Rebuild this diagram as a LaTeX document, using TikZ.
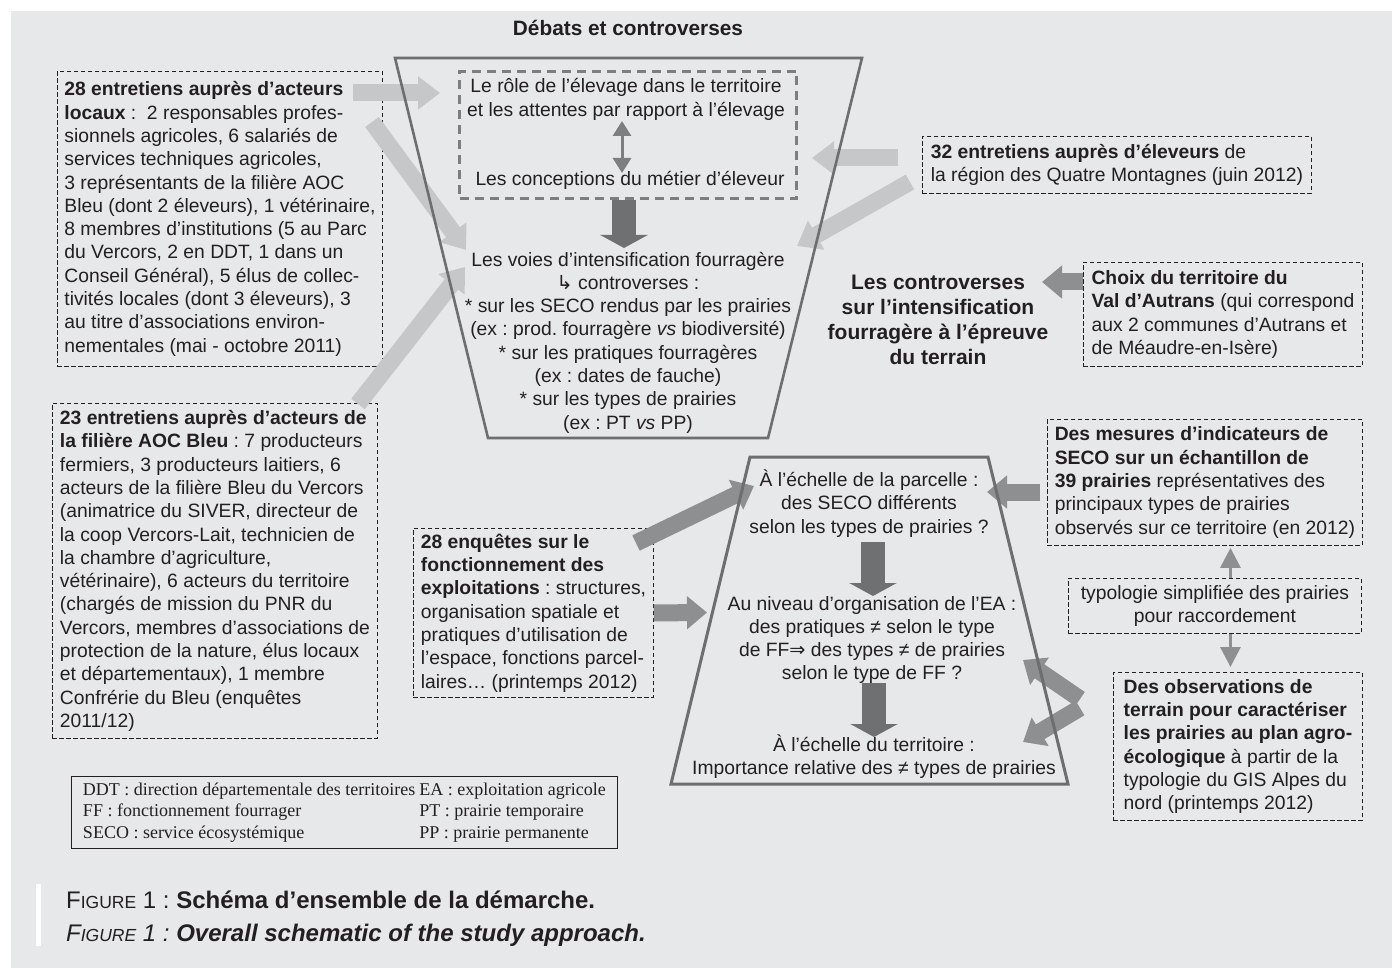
\documentclass[tikz,border=0pt]{standalone}
\usepackage{fontspec}
\setmainfont{Liberation Sans}
\newfontfamily\legfont{Liberation Serif}
\newfontfamily\dvfont{DejaVu Sans}
\usetikzlibrary{arrows.meta,calc}
\definecolor{bg}{HTML}{E7E8EA}
\definecolor{txt}{HTML}{231F20}
\definecolor{lightarr}{HTML}{C6C7C9}
\definecolor{medarr}{HTML}{8E8F91}
\definecolor{darkarr}{HTML}{6F7072}
\definecolor{trapcol}{HTML}{6D6E70}
\definecolor{dashgray}{HTML}{7D7E80}
\frenchspacing
\tikzset{
  mainf/.style={font=\fontsize{19.3}{23.3}\selectfont, text=txt},
  dbox/.style={draw=txt, line width=0.9pt, dash pattern=on 4.5pt off 2.5pt, inner sep=0pt, anchor=north west, align=left, mainf},
  lightA/.style={draw=lightarr, line width=17pt, -{Triangle[width=32pt,length=22pt]}},
  medA/.style={draw=medarr, line width=17pt, -{Triangle[width=32pt,length=20pt]}},
  bigA/.style={draw=darkarr, line width=24pt, -{Triangle[width=47pt,length=13pt]}},
  thinA/.style={draw=medarr, line width=3pt, -{Triangle[width=20pt,length=20pt]}},
  dblA/.style={draw=dashgray, line width=3pt, {Triangle[width=18pt,length=15pt]}-{Triangle[width=18pt,length=15pt]}},
  trapline/.style={draw=trapcol, line width=2.6pt, line join=miter},
  ttext/.style={mainf, align=center, inner sep=0pt},
}
\begin{document}
\begin{tikzpicture}[x=1pt,y=-1pt]
\useasboundingbox (0,0) rectangle (1392,968);
\fill[white] (0,0) rectangle (1392,968);
\fill[bg] (11,11) rectangle (1392,968);

% title
\node[font=\fontsize{20.8}{25}\selectfont\bfseries, text=txt] (title) at (628,28) {Débats et controverses};

% source boxes
\node[dbox, minimum width=325pt, minimum height=295pt] (loc) at (57,71)
{\textbf{28 entretiens auprès d’acteurs}\\
\textbf{locaux} :\ \ 2 responsables profes-\\
sionnels agricoles, 6 salariés de\\
services techniques agricoles,\\
3 représentants de la filière AOC\\
Bleu (dont 2 éleveurs), 1 vétérinaire,\\
8 membres d’institutions (5 au Parc\\
du Vercors, 2 en DDT, 1 dans un\\
Conseil Général), 5 élus de collec-\\
tivités locales (dont 3 éleveurs), 3\\
au titre d’associations environ-\\
nementales (mai - octobre 2011)};

\node[dbox, minimum width=325pt, minimum height=335pt] (aoc) at (52,403)
{\textbf{23 entretiens auprès d’acteurs de}\\
\textbf{la filière AOC Bleu} : 7 producteurs\\
fermiers, 3 producteurs laitiers, 6\\
acteurs de la filière Bleu du Vercors\\
(animatrice du SIVER, directeur de\\
la coop Vercors-Lait, technicien de\\
la chambre d’agriculture,\\
vétérinaire), 6 acteurs du territoire\\
(chargés de mission du PNR du\\
Vercors, membres d’associations de\\
protection de la nature, élus locaux\\
et départementaux), 1 membre\\
Confrérie du Bleu (enquêtes\\
2011/12)};

\node[dbox, minimum width=389pt, minimum height=57pt] (elev) at (922,136)
{\textbf{32 entretiens auprès d’éleveurs} de\\
la région des Quatre Montagnes (juin 2012)};

\node[dbox, minimum width=279pt, minimum height=104pt] (choix) at (1083,262)
{\textbf{Choix du territoire du}\\
\textbf{Val d’Autrans} (qui correspond\\
aux 2 communes d’Autrans et\\
de Méaudre-en-Isère)};

\node[dbox, minimum width=240pt, minimum height=169pt] (enq) at (413,528)
{\textbf{28 enquêtes sur le}\\
\textbf{fonctionnement des}\\
\textbf{exploitations} : structures,\\
organisation spatiale et\\
pratiques d’utilisation de\\
l’espace, fonctions parcel-\\
laires… (printemps 2012)};

\node[dbox, minimum width=315pt, minimum height=126pt] (mes) at (1047,419)
{\textbf{Des mesures d’indicateurs de}\\
\textbf{SECO sur un échantillon de}\\
\textbf{39 prairies} représentatives des\\
principaux types de prairies\\
observés sur ce territoire (en 2012)};

\node[dbox, align=center, minimum width=293pt, minimum height=55pt] (typo) at (1068,578)
{typologie simplifiée des prairies\\
pour raccordement};

\node[dbox, minimum width=249pt, minimum height=148pt] (obs) at (1113,672)
{\textbf{Des observations de}\\
\textbf{terrain pour caractériser}\\
\textbf{les prairies au plan agro-}\\
\textbf{écologique} à partir de la\\
typologie du GIS Alpes du\\
nord (printemps 2012)};

% central heading
\node[font=\fontsize{21}{25}\selectfont\bfseries, text=txt, align=center] (contr) at (938,319.5)
{Les controverses\\sur l’intensification\\fourragère à l’épreuve\\du terrain};

% arrow end points
\coordinate (a1s) at (353,93);   \coordinate (a1e) at (440,93);
\coordinate (a2s) at (372,122);  \coordinate (a2e) at (466,250);
\coordinate (a3s) at (358,404);  \coordinate (a3e) at (465,267);
\coordinate (a4s) at (898,158);  \coordinate (a4e) at (812,158);
\coordinate (a5s) at (910,182);  \coordinate (a5e) at (797,246);
\coordinate (c1s) at (1083,282); \coordinate (c1e) at (1042,282);
\coordinate (e1s) at (636,543);  \coordinate (e1e) at (754,486);
\coordinate (e2e) at (707,612.5);
\coordinate (m1s) at (1040,492); \coordinate (m1e) at (987,492);
\coordinate (z1s) at (1080,699); \coordinate (z1e) at (1023,660);
\coordinate (z2s) at (1080,708); \coordinate (z2e) at (1023,742);

% light arrows
\draw[lightA] (a1s) -- (a1e);
\draw[lightA] (a2s) -- (a2e);
\draw[lightA] (a3s) -- (a3e);
\draw[lightA] (a4s) -- (a4e);
\draw[lightA] (a5s) -- (a5e);
% medium arrows
\draw[medA] (c1s) -- (c1e);
\draw[medA] (e1s) -- (e1e);
\draw[medA] (enq.east) -- (e2e);
\draw[medA] (m1s) -- (m1e);
\draw[medA] (z1s) -- (z1e);
\draw[medA] (z2s) -- (z2e);
\draw[thinA] ($(typo.north)+(15.5,0)$) -- ($(mes.south)+(25.5,2)$);
\draw[thinA] ($(typo.south)+(15.5,0)$) -- ($(obs.north)+(-7.5,-5)$);

% upper funnel
\draw[trapline] (395,58) -- (862,58) -- (768,438) -- (488,438) -- cycle;
\node[draw=dashgray, line width=3pt, dash pattern=on 9pt off 6pt, minimum width=337pt, minimum height=127pt, anchor=north west, inner sep=0pt] (inner) at (458,70) {};
\node[ttext] (role) at (626,99.5) {Le rôle de l’élevage dans le territoire\\et les attentes par rapport à l’élevage};
\node[ttext] (metier) at (630,180) {Les conceptions du métier d’éleveur};
\draw[dblA] (622,121) -- (622,173);
\node[ttext] (voies) at (628,342.5)
{Les voies d’intensification fourragère\\
{\dvfont ↳} controverses :\\
* sur les SECO rendus par les prairies\\
(ex : prod. fourragère \textit{vs} biodiversité)\\
* sur les pratiques fourragères\\
(ex : dates de fauche)\\
* sur les types de prairies\\
(ex : PT \textit{vs} PP)};
\draw[bigA] (inner.south -| 624,0) -- (624,248);

% lower funnel
\draw[trapline, line width=3pt] (750,457) -- (988,457) -- (1068,784) -- (671,784) -- cycle;
\node[ttext] (parc) at (869,503.5) {À l’échelle de la parcelle :\\des SECO différents\\selon les types de prairies ?};
\node[ttext] (ea) at (872,640) {Au niveau d’organisation de l’EA :\\des pratiques ≠ selon le type\\de FF{\dvfont ⇒} des types ≠ de prairies\\selon le type de FF ?};
\node[ttext] (terr) at (874,756.5) {À l’échelle du territoire :\\Importance relative des ≠ types de prairies};
\draw[bigA] (873,542) -- (873,596);
\draw[bigA] (874,683) -- (874,737);

% legend
\node[draw=txt, line width=0.8pt, minimum width=546pt, minimum height=72pt, anchor=north west, inner sep=0pt,
      font=\legfont\fontsize{18}{21.5}\selectfont, text=txt] (leg) at (71,776)
{\begin{tabular}{@{}l@{\hspace{4pt}}l@{}}
DDT : direction départementale des territoires & EA : exploitation agricole\\
FF : fonctionnement fourrager & PT : prairie temporaire\\
SECO : service écosystémique & PP : prairie permanente
\end{tabular}};

% caption
\fill[white] (36,884) rectangle (41,946);
\node[anchor=west, inner sep=0pt, text=txt, font=\fontsize{24}{28}\selectfont] (cap1) at (66,900)
{F{\fontsize{17.5}{22}\selectfont IGURE} 1 : \textbf{Schéma d’ensemble de la démarche.}};
\node[anchor=west, inner sep=0pt, text=txt, font=\fontsize{24}{28}\selectfont\itshape] (cap2) at (66,935)
{F{\fontsize{17.5}{22}\selectfont IGURE} 1 : \textbf{Overall schematic of the study approach.}};
\end{tikzpicture}
\end{document}
